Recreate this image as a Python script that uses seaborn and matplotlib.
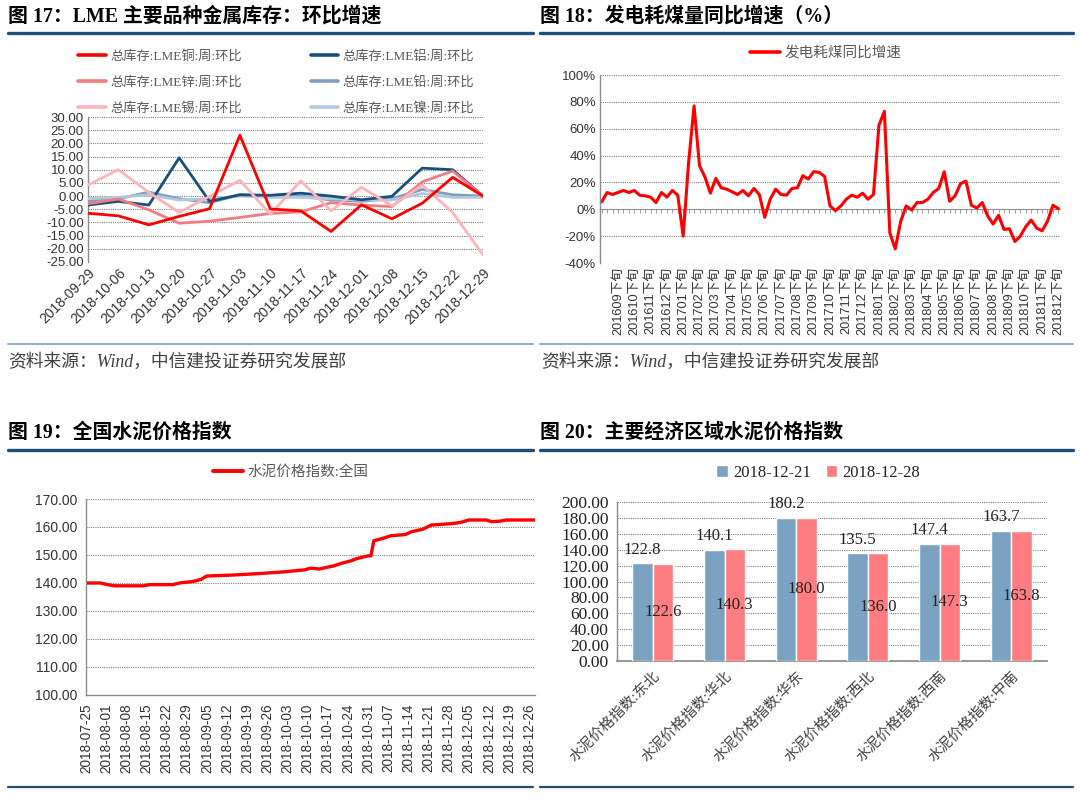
import numpy as np
import pandas as pd
import matplotlib
matplotlib.use('Agg')
import matplotlib.pyplot as plt
from matplotlib.lines import Line2D
from matplotlib.patches import Patch
import seaborn as sns

# ---------------- Chart 17 data ----------------
dates17 = ['2018-09-29', '2018-10-06', '2018-10-13', '2018-10-20', '2018-10-27',
           '2018-11-03', '2018-11-10', '2018-11-17', '2018-11-24', '2018-12-01',
           '2018-12-08', '2018-12-15', '2018-12-22', '2018-12-29']
copper = [-6.5, -7.5, -10.9, -7.7, -4.8, 23.1, -4.9, -5.6, -13.4, -3.3, -8.6, -2.7, 7.1, 0.0]
aluminium = [-3.4, -2.0, -3.4, 14.5, -2.0, 0.5, 0.3, 1.1, 0.0, -1.4, -0.1, 10.6, 10.0, 0.0]
zinc = [-2.9, -1.1, -5.2, -10.3, -9.5, -8.1, -6.6, -6.0, -2.5, -3.4, -4.0, 5.4, 9.5, 0.0]
lead = [-2.0, -1.0, 1.5, -1.0, -2.5, 0.5, 0.1, 0.0, -1.5, -2.0, -1.0, 2.5, 0.5, 0.0]
tin = [4.2, 10.0, 1.4, -6.2, -0.1, 6.0, -6.9, 5.8, -5.6, 3.4, -3.7, 4.2, -6.2, -22.3]
nickel = [-1.0, -0.5, 0.5, -1.5, -1.0, 0.0, -0.5, -0.5, -1.0, -1.5, -1.5, 1.0, -0.5, -0.5]
names17 = ['总库存:LME铜:周:环比', '总库存:LME铝:周:环比', '总库存:LME锌:周:环比',
           '总库存:LME铅:周:环比', '总库存:LME锡:周:环比', '总库存:LME镍:周:环比']

# ---------------- Chart 18 data ----------------
coal_yoy = [5.5, 12.5, 11, 12.5, 14, 12.5, 14, 10.5, 10, 9,
            5, 12.5, 9, 14, 10.5, -20, 35, 77, 32.5, 24,
            12, 23, 16, 15, 13, 11, 14, 10, 15.5, 11,
            -6, 7.5, 15, 11, 10.5, 15.5, 16, 25, 22.5, 28,
            27.5, 24.5, 2.5, -1, 2.5, 7.5, 10.5, 9, 12, 7.5,
            11, 62.5, 73, -17.5, -29.5, -9, 2.5, -0.5, 5, 5,
            7.5, 12.5, 15.5, 28, 6, 10, 19, 21, 3, 1,
            5, -5, -11, -4.5, -15, -14.5, -24, -20, -13, -8,
            -14, -16, -9, 3, 0.5]
months18 = ['201609', '201610', '201611', '201612', '201701', '201702', '201703',
            '201704', '201705', '201706', '201707', '201708', '201709', '201710',
            '201711', '201712', '201801', '201802', '201803', '201804', '201805',
            '201806', '201807', '201808', '201809', '201810', '201811', '201812']

# ---------------- Chart 19 data ----------------
dates19 = ['2018-07-25', '2018-07-30', '2018-08-02', '2018-08-04', '2018-08-14',
           '2018-08-16', '2018-08-24', '2018-08-27', '2018-08-31', '2018-09-03',
           '2018-09-05', '2018-09-13', '2018-09-17', '2018-09-25', '2018-10-02',
           '2018-10-09', '2018-10-11', '2018-10-14', '2018-10-19', '2018-10-22',
           '2018-10-25', '2018-10-27', '2018-10-31', '2018-11-01', '2018-11-02',
           '2018-11-05', '2018-11-08', '2018-11-13', '2018-11-15', '2018-11-19',
           '2018-11-22', '2018-11-29', '2018-12-02', '2018-12-05', '2018-12-11',
           '2018-12-13', '2018-12-16', '2018-12-18', '2018-12-28']
cement_nat = [140.0, 140.0, 139.3, 139.0, 139.0, 139.4, 139.4, 140.1, 140.5, 141.3,
              142.5, 142.8, 143.0, 143.5, 144.0, 144.7, 145.3, 145.0, 146.1, 147.1,
              147.9, 148.7, 149.7, 149.7, 155.1, 155.9, 156.9, 157.3, 158.3, 159.2,
              160.7, 161.2, 161.6, 162.5, 162.5, 161.9, 162.1, 162.5, 162.5]

# ---------------- Chart 20 data ----------------
regions20 = ['水泥价格指数:东北', '水泥价格指数:华北', '水泥价格指数:华东',
             '水泥价格指数:西北', '水泥价格指数:西南', '水泥价格指数:中南']
v1221 = [122.8, 140.1, 180.2, 135.5, 147.4, 163.7]
v1228 = [122.6, 140.3, 180.0, 136.0, 147.3, 163.8]
series20 = ['2018-12-21', '2018-12-28']

# ---------------- styling ----------------
sns.set_theme(style='white')
SANS = ['Liberation Sans', 'Noto Sans CJK SC', 'DejaVu Sans']
SERIF = ['Liberation Serif', 'Noto Sans CJK SC', 'DejaVu Sans']
plt.rcParams['font.family'] = SANS
plt.rcParams['axes.unicode_minus'] = False

W, H = 1080, 799
fig = plt.figure(figsize=(W / 100, H / 100), dpi=100)
fig.patch.set_facecolor('white')


def px_axes(l, t, r, b):
    return fig.add_axes([l / W, 1 - b / H, (r - l) / W, (b - t) / H])


def hline(x0, x1, y, color, lw):
    fig.add_artist(Line2D([x0 / W, x1 / W], [1 - y / H, 1 - y / H],
                          transform=fig.transFigure, color=color, lw=lw))


def ftext(x, y, s, **kw):
    fig.text(x / W, 1 - y / H, s, **kw)


TITLE_BLUE = '#1F4E79'
GRID = '#7f7f7f'
AXC = '#8c8c8c'
TXT = '#333333'


def style_axes(ax):
    for s in ['top', 'right']:
        ax.spines[s].set_visible(False)
    ax.spines['left'].set_color(AXC)
    ax.spines['left'].set_linewidth(1.0)
    ax.spines['bottom'].set_color(AXC)
    ax.yaxis.grid(True, linestyle=(0, (1, 1)), color=GRID, linewidth=0.8)
    ax.xaxis.grid(False)
    ax.set_xlabel('')
    ax.set_ylabel('')
    ax.set_facecolor('white')


# Titles and rules
tkw = dict(fontsize=14.3, fontweight='bold', family=SERIF, color='black', va='center', ha='left')
ftext(8, 17, '图 17：LME 主要品种金属库存：环比增速', **tkw)
ftext(540, 17, '图 18：发电耗煤量同比增速（%）', **tkw)
ftext(8, 433, '图 19：全国水泥价格指数', **tkw)
ftext(540, 433, '图 20：主要经济区域水泥价格指数', **tkw)
for y in (33, 450):
    hline(8, 533, y, TITLE_BLUE, 2.4)
    hline(540, 1073, y, TITLE_BLUE, 2.4)
hline(8, 533, 344, '#8EA9C8', 1.4)
hline(540, 1073, 344, '#8EA9C8', 1.4)
hline(8, 533, 787, TITLE_BLUE, 1.6)
hline(540, 1073, 787, TITLE_BLUE, 1.6)
skw = dict(fontsize=12.8, family=SERIF, style='italic', color='#404040', va='center', ha='left')
ftext(8, 362, '资料来源：Wind，中信建投证券研究发展部', **skw)
ftext(541, 362, '资料来源：Wind，中信建投证券研究发展部', **skw)

# ---------------- Chart 17 ----------------
ax17 = px_axes(88, 117, 483, 262)
style_axes(ax17)
x17 = np.arange(len(dates17))
series17 = [copper, aluminium, zinc, lead, tin, nickel]
colors17 = ['#FF0000', '#17507F', '#F27C82', '#7F9FBF', '#FFB3BA', '#B4C8DD']
draw_order = [3, 5, 1, 2, 4, 0]
for i in draw_order:
    sns.lineplot(x=x17, y=series17[i], color=colors17[i], linewidth=2.0, ax=ax17,
                 label=names17[i], legend=False, zorder=3 + (1 if i == 0 else 0))
ax17.set_xlabel('')
ax17.set_ylabel('')
ax17.set_xlim(0, 13)
ax17.set_ylim(-25, 30)
ax17.set_yticks(np.arange(-25, 31, 5))
ax17.set_yticklabels([f'{v:.2f}' for v in np.arange(-25, 31, 5)], fontsize=9.5, color=TXT)
ax17.set_xticks(x17)
ax17.set_xticklabels(dates17, rotation=45, ha='right', va='top', rotation_mode='anchor',
                     fontsize=10, color=TXT)
ax17.tick_params(axis='both', length=0, pad=3)
ax17.spines['bottom'].set_visible(False)
leg_order = [0, 2, 4, 1, 3, 5]
handles17 = [Line2D([], [], color=colors17[i], lw=2.6) for i in leg_order]
leg17 = fig.legend(handles17, [names17[i] for i in leg_order], ncol=2, frameon=False,
                   loc='upper left', bbox_to_anchor=(78 / W, 1 - 50 / H),
                   borderaxespad=0, borderpad=0, handlelength=2.1, handletextpad=0.35,
                   columnspacing=5.2, labelspacing=1.0,
                   prop={'family': SERIF, 'size': 9.5})
for t in leg17.get_texts():
    t.set_color('#595959')

# ---------------- Chart 18 ----------------
ax18 = px_axes(600, 75, 1060, 263)
style_axes(ax18)
x18 = np.arange(len(coal_yoy))
sns.lineplot(x=x18, y=coal_yoy, color='#FF0000', linewidth=2.2, ax=ax18,
             label='发电耗煤同比增速', legend=False)
ax18.set_xlabel('')
ax18.set_ylabel('')
ax18.set_xlim(-0.3, len(coal_yoy) - 0.7)
ax18.set_ylim(-40, 100)
ax18.set_yticks(np.arange(-40, 101, 20))
ax18.set_yticklabels([f'{v}%' for v in range(-40, 101, 20)], fontsize=9.5, color=TXT)
tick_idx = np.arange(3, len(coal_yoy), 3)
ax18.set_xticks(tick_idx)
ax18.set_xticklabels([m + '下旬' for m in months18], rotation=90, fontsize=9.2,
                     color=TXT, va='top', ha='center')
ax18.tick_params(axis='both', length=0, pad=3)
ax18.spines['bottom'].set_visible(False)
sec18 = ax18.secondary_xaxis(40 / 140)
sec18.set_xticks(x18)
sec18.tick_params(axis='x', length=3, width=0.6, color=AXC, labelbottom=False,
                  labeltop=False, direction='out')
for s in sec18.spines.values():
    s.set_color('#a6a6a6')
    s.set_linewidth(0.8)
leg18 = fig.legend([Line2D([], [], color='#FF0000', lw=2.6)], ['发电耗煤同比增速'],
                   frameon=False, loc='center', bbox_to_anchor=(826 / W, 1 - 53 / H),
                   borderaxespad=0, borderpad=0, handlelength=2.0, handletextpad=0.35,
                   prop={'family': SANS, 'size': 10.5})
for t in leg18.get_texts():
    t.set_color('#595959')

# ---------------- Chart 19 ----------------
ax19 = px_axes(86, 499, 535, 695)
style_axes(ax19)
d19 = pd.to_datetime(dates19)
sns.lineplot(x=d19, y=cement_nat, color='#FF0000', linewidth=2.4, ax=ax19,
             label='水泥价格指数:全国', legend=False)
ax19.set_xlabel('')
ax19.set_ylabel('')
ax19.set_xlim(pd.Timestamp('2018-07-25'), pd.Timestamp('2018-12-28'))
ax19.set_ylim(100, 170)
ax19.set_yticks(np.arange(100, 171, 10))
ax19.set_yticklabels([f'{v:.2f}' for v in np.arange(100, 171, 10)], fontsize=10, color=TXT)
wk = pd.date_range('2018-07-25', '2018-12-26', freq='7D')
ax19.set_xticks(wk)
ax19.set_xticklabels([d.strftime('%Y-%m-%d') for d in wk], rotation=90, fontsize=9.8,
                     color=TXT, va='top', ha='center')
ax19.tick_params(axis='x', length=4, width=0.8, color=AXC, direction='out', pad=2)
ax19.tick_params(axis='y', length=4, width=0.8, color=AXC, direction='out', pad=2)
ax19.spines['bottom'].set_linewidth(1.0)
leg19 = fig.legend([Line2D([], [], color='#FF0000', lw=2.8)], ['水泥价格指数:全国'],
                   frameon=False, loc='center', bbox_to_anchor=(291 / W, 1 - 472 / H),
                   borderaxespad=0, borderpad=0, handlelength=2.0, handletextpad=0.35,
                   prop={'family': SERIF, 'size': 10.5})
for t in leg19.get_texts():
    t.set_color('#595959')

# ---------------- Chart 20 ----------------
ax20 = px_axes(617, 502, 1047, 661)
style_axes(ax20)
df20 = pd.DataFrame({
    'region': regions20 * 2,
    'value': v1221 + v1228,
    'date': [series20[0]] * len(regions20) + [series20[1]] * len(regions20),
})
colors20 = ['#7BA2C0', '#FF7C80']
sns.barplot(data=df20, x='region', y='value', hue='date', hue_order=series20,
            palette=colors20, saturation=1, width=0.57, gap=0, ax=ax20, legend=False,
            zorder=3)
ax20.set_ylim(0, 200)
ax20.set_yticks(np.arange(0, 201, 20))
ax20.set_yticklabels([f'{v:.2f}' for v in np.arange(0, 201, 20)], family=SERIF,
                     fontsize=12.5, color='#222222')
ax20.set_xlim(-0.5, 5.5)
ax20.set_xticks(np.arange(len(regions20)))
ax20.set_xticklabels(regions20, rotation=45, ha='right', va='top', rotation_mode='anchor',
                     family=SERIF, fontsize=10.5, color='#404040')
ax20.set_xticks(np.arange(-0.5, 6, 1), minor=True)
ax20.tick_params(axis='x', which='major', length=0, pad=6)
ax20.tick_params(axis='x', which='minor', length=4, width=0.8, color=AXC, direction='out')
ax20.tick_params(axis='y', length=4, width=0.8, color=AXC, direction='out', pad=2)
ax20.set_xlabel('')
ax20.set_ylabel('')
c0, c1 = ax20.containers[0], ax20.containers[1]
ax20.bar_label(c0, fmt='%.1f', padding=4, fontsize=12, family=SERIF, color='#222222')
ax20.bar_label(c1, fmt='%.1f', label_type='center', fontsize=12, family=SERIF,
               color='#222222')
leg20 = fig.legend([Patch(facecolor=c) for c in colors20], series20, frameon=False,
                   ncol=2, loc='center', bbox_to_anchor=(818 / W, 1 - 473 / H),
                   borderaxespad=0, borderpad=0, handlelength=0.7, handleheight=0.7,
                   handletextpad=0.3, columnspacing=0.9,
                   prop={'family': SERIF, 'size': 12})
for t in leg20.get_texts():
    t.set_color('#222222')

fig.savefig('out.png', dpi=100, facecolor='white')
